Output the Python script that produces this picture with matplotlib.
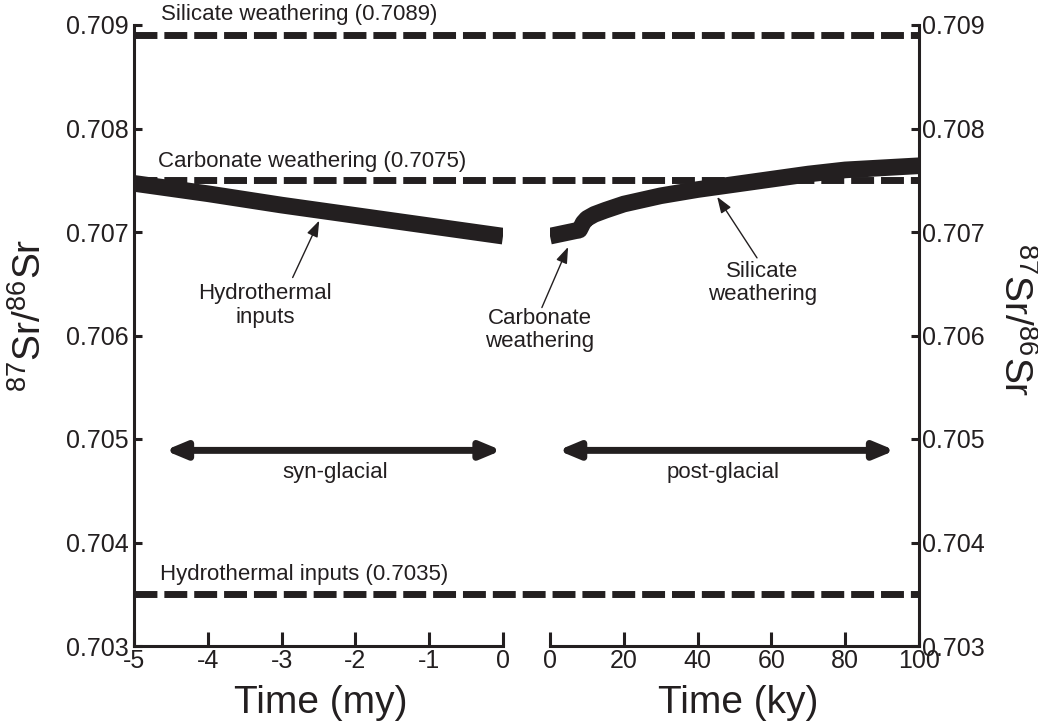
import matplotlib.pyplot as plt
import numpy as np

plt.rcParams['font.family'] = ['Liberation Sans', 'DejaVu Sans']
plt.rcParams['axes.unicode_minus'] = False
plt.rcParams['mathtext.fontset'] = 'custom'
plt.rcParams['mathtext.rm'] = 'Liberation Sans'

ink = '#231f20'

# end-member ratios (dashed reference lines)
end_members = ['Silicate weathering', 'Carbonate weathering', 'Hydrothermal inputs']
end_ratios = [0.7089, 0.7075, 0.7035]

# syn-glacial trend, time in my
syn_time = [-5, -4, -3, -2, -1, 0]
syn_sr = [0.70747, 0.70737, 0.70726, 0.70716, 0.70706, 0.70696]

# post-glacial trend, time in ky
carb_time = [0, 4, 8]
carb_sr = [0.70696, 0.70699, 0.70702]
sil_time = [8, 9, 10, 12, 15, 20, 30, 40, 50, 60, 70, 80, 90, 100]
sil_sr = [0.70702, 0.70709, 0.70713, 0.70717, 0.70721, 0.70727, 0.70735,
          0.70741, 0.70746, 0.70751, 0.70756, 0.70760, 0.70762, 0.70764]

yticks = [0.703, 0.704, 0.705, 0.706, 0.707, 0.708, 0.709]
ylim = (0.703, 0.709)

fig = plt.figure(figsize=(10.38, 7.27), dpi=100)
W, H = 1038, 727
x0, x1, x2, x3 = 134, 503, 550, 919
ytop, ybot = 25, 646
bottom = 1 - ybot / H
height = (ybot - ytop) / H

# backdrop for the dashed lines that run across both panels
bg = fig.add_axes([x0 / W, bottom, (x3 - x0) / W, height], zorder=0)
bg.set_xlim(0, 1)
bg.set_ylim(*ylim)
bg.axis('off')
for name, r in zip(end_members, end_ratios):
    bg.plot([0, 1], [r, r], color=ink, lw=5, dashes=(3.3, 1.0),
            solid_capstyle='butt', dash_capstyle='butt')
bg.text(0.034, 0.70910, 'Silicate weathering (0.7089)', fontsize=16, color=ink, va='center')
bg.text(0.031, 0.70768, 'Carbonate weathering (0.7075)', fontsize=16, color=ink, va='center')
bg.text(0.033, 0.70369, 'Hydrothermal inputs (0.7035)', fontsize=16, color=ink, va='center')

axl = fig.add_axes([x0 / W, bottom, (x1 - x0) / W, height], zorder=1)
axr = fig.add_axes([x2 / W, bottom, (x3 - x2) / W, height], zorder=1)

for ax in (axl, axr):
    ax.set_facecolor('none')
    ax.set_ylim(*ylim)
    ax.set_yticks(yticks)
    ax.set_yticklabels(['%.3f' % t for t in yticks])
    ax.spines['top'].set_visible(False)
    for s in ax.spines.values():
        s.set_linewidth(2.2)
        s.set_color(ink)
    ax.tick_params(axis='x', direction='in', length=10, width=2.2, labelsize=18,
                   pad=2, colors=ink)
    ax.tick_params(axis='y', direction='in', length=6, width=2.2, labelsize=18,
                   pad=4, colors=ink)

axl.set_xlim(-5, 0)
axl.set_xticks([-5, -4, -3, -2, -1, 0])
axl.spines['right'].set_visible(False)

axr.set_xlim(0, 100)
axr.set_xticks([0, 20, 40, 60, 80, 100])
axr.spines['left'].set_visible(False)
axr.yaxis.tick_right()
axr.tick_params(axis='y', pad=2)

# trends
axl.plot(syn_time, syn_sr, color=ink, lw=12, solid_capstyle='butt')
axr.plot(carb_time, carb_sr, color=ink, lw=12, solid_capstyle='butt')
axr.plot(sil_time, sil_sr, color=ink, lw=12, solid_capstyle='round',
         solid_joinstyle='round')

thin = dict(arrowstyle='-|>,head_length=0.7,head_width=0.25', color=ink, lw=1,
            mutation_scale=14, shrinkA=0, shrinkB=0)
axl.annotate('', xy=(-2.49, 0.70711), xytext=(-2.85, 0.70656), arrowprops=thin)
axl.text(-3.22, 0.70629, 'Hydrothermal\ninputs', fontsize=16, color=ink,
         ha='center', va='center', linespacing=1.15)
axr.annotate('', xy=(4.9, 0.706855), xytext=(-2.2, 0.70627), arrowprops=thin,
             annotation_clip=False)
axr.text(-2.7, 0.706053, 'Carbonate\nweathering', fontsize=16, color=ink,
         ha='center', va='center', linespacing=1.15, clip_on=False)
axr.annotate('', xy=(45.3, 0.70734), xytext=(56.1, 0.70675), arrowprops=thin)
axr.text(57.5, 0.706507, 'Silicate\nweathering', fontsize=16, color=ink,
         ha='center', va='center', linespacing=1.15)

# period arrows
bold = dict(arrowstyle='<|-|>,head_length=12,head_width=5', color=ink, lw=5,
            mutation_scale=1, shrinkA=0, shrinkB=0)
axl.annotate('', xy=(-4.58, 0.70489), xytext=(-0.02, 0.70489), arrowprops=bold)
axl.text(-2.28, 0.70468, 'syn-glacial', fontsize=16, color=ink, ha='center', va='center')
axr.annotate('', xy=(2.2, 0.70489), xytext=(93.5, 0.70489), arrowprops=bold)
axr.text(46.9, 0.70468, 'post-glacial', fontsize=16, color=ink, ha='center', va='center')

# axis titles
fig.text(321 / W, 1 - 703 / H, 'Time (my)', fontsize=28, color=ink, ha='center', va='center')
fig.text(738 / W, 1 - 703 / H, 'Time (ky)', fontsize=28, color=ink, ha='center', va='center')
ylab = r'$^{87}$Sr/$^{86}$Sr'
fig.text(30 / W, 1 - 315 / H, ylab, fontsize=28, color=ink, rotation=90,
         ha='center', va='center')
fig.text(1015 / W, 1 - 320 / H, ylab, fontsize=28, color=ink, rotation=270,
         ha='center', va='center')

plt.savefig('out.png', dpi=100)
